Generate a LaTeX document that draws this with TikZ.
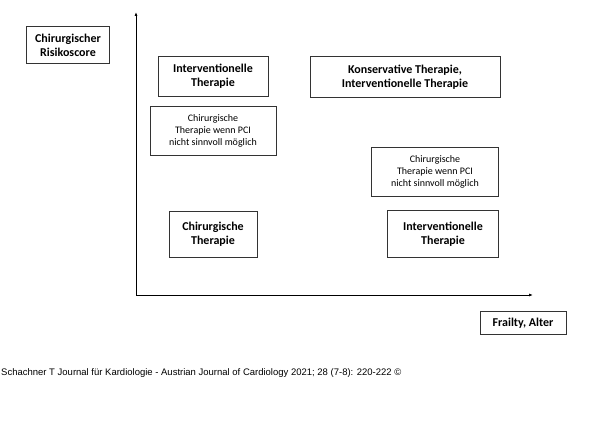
\documentclass[tikz,border=0pt]{standalone}
\usepackage{fontspec}
\setmainfont{Carlito}
\newfontfamily\captionfont{Liberation Sans}
\usetikzlibrary{arrows.meta,positioning,calc}

\begin{document}
\begin{tikzpicture}[x=1pt, y=-1pt, >={Latex[length=4pt,width=3pt]},
  box/.style={draw, thick, draw=black!80, align=center, inner sep=2pt},
  boldbox/.style={box, font=\bfseries\fontsize{12}{14}\selectfont},
  smallbox/.style={box, font=\fontsize{10}{12}\selectfont}]
  \useasboundingbox (0,0) rectangle (600,422);
  \coordinate (O) at (136,295);
  \coordinate (Ytop) at (136,12);
  \coordinate (Xend) at (533,295);

  \node[boldbox, minimum width=83pt, minimum height=37pt] (score) at (68,45) {Chirurgischer\\Risikoscore};
  \node[boldbox, minimum width=110pt, minimum height=40pt] (intTL) at (213,76) {Interventionelle\\Therapie};
  \node[boldbox, minimum width=190pt, minimum height=41pt] (konsTR) at (405,77) {Konservative Therapie,\\Interventionelle Therapie};
  \node[smallbox, minimum width=126pt, minimum height=49pt] (chirML) at (213,131) {Chirurgische\\Therapie wenn PCI\\nicht sinnvoll möglich};
  \node[smallbox, minimum width=127pt, minimum height=49pt] (chirMR) at (435,172) {Chirurgische\\Therapie wenn PCI\\nicht sinnvoll möglich};
  \node[boldbox, minimum width=88pt, minimum height=46pt] (chirBL) at (213,234) {Chirurgische\\Therapie};
  \node[boldbox, minimum width=111pt, minimum height=47pt] (intBR) at (443,234) {Interventionelle\\Therapie};
  \node[boldbox, minimum width=86pt, minimum height=23pt] (frail) at (523,323) {Frailty, Alter};

  \draw[->, thick] (O) -- (Ytop);
  \draw[->, thick] (O) -- (Xend);

  \node[anchor=west, inner sep=0pt, font=\captionfont\fontsize{9.5}{11}\selectfont] (src) at (1,373)
    {Schachner T Journal für Kardiologie - Austrian Journal of Cardiology 2021; 28 (7-8): 220-222 ©};
\end{tikzpicture}
\end{document}
